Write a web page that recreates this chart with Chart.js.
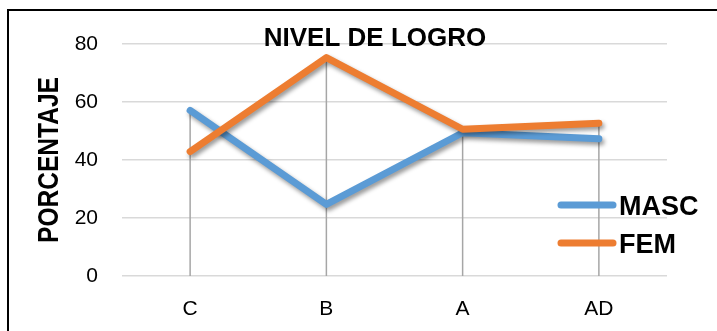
<!DOCTYPE html>
<html>
<head>
<meta charset="utf-8">
<script src="https://cdn.jsdelivr.net/npm/chart.js@4/dist/chart.umd.min.js"></script>
<style>
  html, body { margin: 0; padding: 0; background: #fff; }
  #wrap { width: 717px; height: 331px; position: relative; }
</style>
</head>
<body>
<div id="wrap"><canvas id="c" width="717" height="331"></canvas></div>
<script>
const categories = ['C', 'B', 'A', 'AD'];
const masc = [57.1, 24.7, 49.4, 47.3];
const fem = [42.9, 75.3, 50.6, 52.7];
const yTicks = [0, 20, 40, 60, 80];
const chartTitle = 'NIVEL DE LOGRO';
const yTitle = 'PORCENTAJE';

const FONT = '"Liberation Sans", Arial, sans-serif';

const decor = {
  id: 'decor',
  beforeDatasetsDraw(chart) {
    const ctx = chart.ctx;
    const area = chart.chartArea;
    const xs = chart.scales.x, ys = chart.scales.y;
    ctx.save();
    ctx.strokeStyle = '#a6a6a6';
    ctx.lineWidth = 1.5;
    categories.forEach((c, i) => {
      let mx = -Infinity;
      chart.data.datasets.forEach(d => { mx = Math.max(mx, d.data[i]); });
      const x = xs.getPixelForValue(i);
      ctx.beginPath();
      ctx.moveTo(x, ys.getPixelForValue(mx));
      ctx.lineTo(x, area.bottom);
      ctx.stroke();
    });
    ctx.restore();
  },
  beforeDatasetDraw(chart) {
    const ctx = chart.ctx;
    ctx.save();
    ctx.shadowColor = 'rgba(0,0,0,0.4)';
    ctx.shadowBlur = 4;
    ctx.shadowOffsetX = 2;
    ctx.shadowOffsetY = 3;
  },
  afterDatasetDraw(chart) {
    chart.ctx.restore();
  },
  afterDraw(chart) {
    const ctx = chart.ctx;
    ctx.save();
    // border
    ctx.strokeStyle = '#000';
    ctx.lineWidth = 2;
    ctx.beginPath();
    ctx.moveTo(8, 340);
    ctx.lineTo(8, 10);
    ctx.lineTo(720, 10);
    ctx.stroke();
    // title
    ctx.fillStyle = '#000';
    ctx.font = 'bold 26px ' + FONT;
    ctx.textAlign = 'center';
    ctx.textBaseline = 'alphabetic';
    ctx.fillText(chartTitle, 375, 46);
    // y title
    ctx.save();
    ctx.translate(58, 160);
    ctx.rotate(-Math.PI / 2);
    ctx.font = 'bold 29px ' + FONT;
    const w = ctx.measureText(yTitle).width;
    ctx.scale(166 / w, 1);
    ctx.textAlign = 'center';
    ctx.fillText(yTitle, 0, 0);
    ctx.restore();
    // legend
    const ly = [205, 243];
    chart.data.datasets.forEach((d, i) => {
      const y = ly[i];
      ctx.strokeStyle = d.borderColor;
      ctx.lineWidth = 7;
      ctx.lineCap = 'round';
      ctx.beginPath();
      ctx.moveTo(561, y);
      ctx.lineTo(613, y);
      ctx.stroke();
      ctx.fillStyle = '#000';
      ctx.font = 'bold 27px ' + FONT;
      ctx.textAlign = 'left';
      ctx.textBaseline = 'alphabetic';
      ctx.fillText(d.label, 619, y + 10);
    });
    ctx.restore();
  }
};

new Chart(document.getElementById('c'), {
  type: 'line',
  data: {
    labels: categories,
    datasets: [
      { label: 'MASC', data: masc, borderColor: '#5b9bd5', backgroundColor: '#5b9bd5',
        borderWidth: 7, pointRadius: 0, tension: 0, borderCapStyle: 'round', borderJoinStyle: 'round', order: 1 },
      { label: 'FEM', data: fem, borderColor: '#ed7d31', backgroundColor: '#ed7d31',
        borderWidth: 7, pointRadius: 0, tension: 0, borderCapStyle: 'round', borderJoinStyle: 'round', order: 0 }
    ]
  },
  options: {
    responsive: false,
    animation: false,
    devicePixelRatio: 1,
    layout: { padding: { left: 0, top: 44, right: 50, bottom: 0 } },
    plugins: { legend: { display: false }, title: { display: false }, tooltip: { enabled: false } },
    scales: {
      x: {
        offset: true,
        grid: { display: false },
        border: { display: false },
        ticks: { color: '#000', font: { family: FONT, size: 21 }, padding: 13 },
        afterFit(s) { s.height = 331 - 276; }
      },
      y: {
        min: 0, max: 80,
        afterBuildTicks(s) { s.ticks = yTicks.map(v => ({ value: v })); },
        grid: { color: '#d9d9d9', lineWidth: 1.5, drawTicks: false },
        border: { display: false },
        ticks: { color: '#000', font: { family: FONT, size: 21 }, padding: 24 },
        afterFit(s) { s.width = 122; }
      }
    }
  },
  plugins: [decor]
});
</script>
</body>
</html>
